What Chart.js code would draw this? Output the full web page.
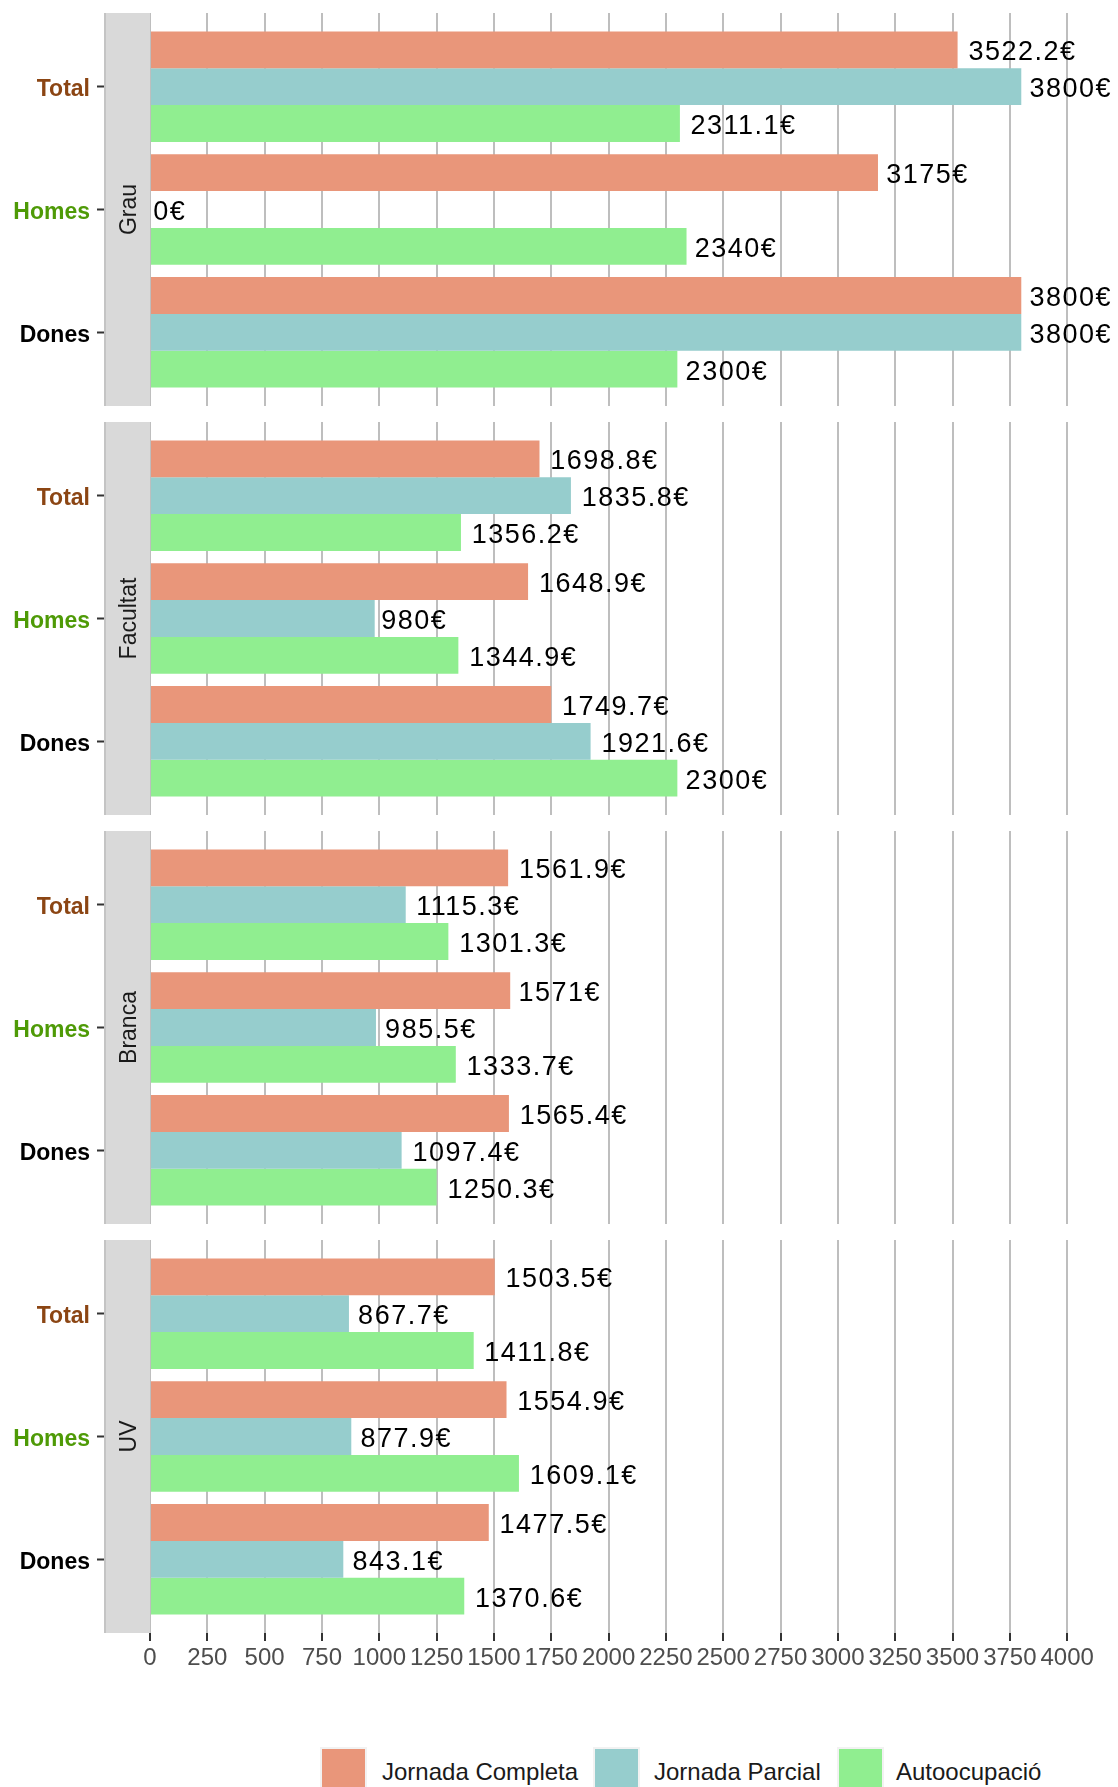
<!DOCTYPE html>
<html>
<head>
<meta charset="utf-8">
<script src="https://cdn.jsdelivr.net/npm/chart.js@4.4.1/dist/chart.umd.min.js"></script>
<style>
  html, body { margin: 0; padding: 0; background: #fff; }
  body { width: 1118px; height: 1787px; position: relative; overflow: hidden;
         font-family: "Liberation Sans", Arial, sans-serif; }
  canvas { position: absolute; left: 0; }
  .key { position: absolute; top: 1747px; width: 43px; height: 43px;
         border: 2px solid #F2F2F2; }
  .key-label { position: absolute; top: 1760px; font-size: 24px; line-height: 24px;
               color: #1A1A1A; white-space: nowrap; }
</style>
</head>
<body>
<script>
// Salaris mitjans per nivell (Grau, Facultat, Branca, UV) i sexe
const facets = ['Grau', 'Facultat', 'Branca', 'UV'];
const groups = ['Total', 'Homes', 'Dones'];
const seriesNames = ['Jornada Completa', 'Jornada Parcial', 'Autoocupació'];

// one row per facet, each row is [Total, Homes, Dones]
const jornadaCompleta = [
  [3522.2, 3175, 3800],
  [1698.8, 1648.9, 1749.7],
  [1561.9, 1571, 1565.4],
  [1503.5, 1554.9, 1477.5]
];
const jornadaParcial = [
  [3800, 0, 3800],
  [1835.8, 980, 1921.6],
  [1115.3, 985.5, 1097.4],
  [867.7, 877.9, 843.1]
];
const autoocupacio = [
  [2311.1, 2340, 2300],
  [1356.2, 1344.9, 2300],
  [1301.3, 1333.7, 1250.3],
  [1411.8, 1609.1, 1370.6]
];
const xTicks = [0, 250, 500, 750, 1000, 1250, 1500, 1750, 2000, 2250, 2500,
                2750, 3000, 3250, 3500, 3750, 4000];

const series = [jornadaCompleta, jornadaParcial, autoocupacio];
const seriesColors = ['#E9967A', '#96CDCD', '#90EE90'];
const groupColors = ['#8B4513', '#4E9A06', '#000000'];

const FONT = '"Liberation Sans", Arial, sans-serif';
const PANEL_H = 393;
const AXIS_H = 60;
const panelTops = [13, 422, 831, 1240];

// grey strip with the facet name, placed between the y labels and the panel
const facetStrip = {
  id: 'facetStrip',
  afterDraw(chart, args, opts) {
    const { ctx, chartArea } = chart;
    const x0 = 104, x1 = chartArea.left;
    const h = chartArea.bottom - chartArea.top;
    ctx.save();
    ctx.fillStyle = '#D9D9D9';
    ctx.fillRect(x0, chartArea.top, x1 - x0, h);
    ctx.fillStyle = '#C4C4C4';
    ctx.fillRect(x0, chartArea.top, 2, h);
    ctx.translate((x0 + x1) / 2 + 3, chartArea.top + h / 2);
    ctx.rotate(-Math.PI / 2);
    ctx.font = '23px ' + FONT;
    ctx.fillStyle = '#1A1A1A';
    ctx.textAlign = 'center';
    ctx.textBaseline = 'middle';
    ctx.fillText(opts.title, 0, 0);
    ctx.restore();
  }
};

// value + € written just past the end of each bar
const barValueLabels = {
  id: 'barValueLabels',
  afterDatasetsDraw(chart) {
    const ctx = chart.ctx;
    ctx.save();
    ctx.font = '27px ' + FONT;
    ctx.letterSpacing = '1.5px';
    ctx.fillStyle = '#000';
    ctx.textAlign = 'left';
    ctx.textBaseline = 'middle';
    chart.data.datasets.forEach((ds, i) => {
      chart.getDatasetMeta(i).data.forEach((bar, j) => {
        const text = ds.data[j].x + '€';
        const w = ctx.measureText(text).width;
        ctx.fillText(text, bar.x + 0.1 * w, bar.y + 3);
      });
    });
    ctx.restore();
  }
};

function makeChart(f) {
  const isLast = f === facets.length - 1;
  const canvas = document.createElement('canvas');
  canvas.width = 1118;
  canvas.height = PANEL_H + (isLast ? AXIS_H : 0);
  canvas.style.top = panelTops[f] + 'px';
  document.body.appendChild(canvas);

  return new Chart(canvas.getContext('2d'), {
    type: 'bar',
    data: {
      datasets: series.map((values, s) => ({
        label: seriesNames[s],
        data: values[f].map((v, g) => ({ x: v, y: g + 1 })),
        backgroundColor: seriesColors[s],
        borderWidth: 0,
        categoryPercentage: 0.9,
        barPercentage: 1
      }))
    },
    options: {
      indexAxis: 'y',
      responsive: false,
      animation: false,
      layout: { padding: { left: 0, right: 5, top: 0, bottom: 0 } },
      plugins: {
        legend: { display: false },
        tooltip: { enabled: false },
        facetStrip: { title: facets[f] }
      },
      scales: {
        x: {
          type: 'linear',
          min: 0,
          max: 4200,
          afterBuildTicks: s => { s.ticks = xTicks.map(v => ({ value: v })); },
          afterFit: s => {
            s.height = isLast ? AXIS_H : 0;
            s.paddingLeft = 0;
            s.paddingRight = 0;
          },
          grid: {
            color: '#BEBEBE',
            lineWidth: 2,
            drawTicks: isLast,
            tickLength: 8,
            tickColor: '#333333',
            tickWidth: 2
          },
          border: { display: false },
          ticks: {
            display: isLast,
            autoSkip: false,
            maxRotation: 0,
            padding: 3,
            color: '#4D4D4D',
            font: { family: FONT, size: 24 },
            callback: v => String(v)
          }
        },
        y: {
          type: 'linear',
          reverse: true,
          offset: false,
          bounds: 'data',
          min: 0.4,
          max: 3.6,
          afterBuildTicks: s => { s.ticks = groups.map((g, i) => ({ value: i + 1 })); },
          afterFit: s => {
            s.width = 150;
            s.paddingTop = 0;
            s.paddingBottom = 0;
          },
          grid: {
            offset: false,
            drawOnChartArea: false,
            drawTicks: true,
            tickLength: 53,
            tickColor: '#333333',
            tickWidth: 2
          },
          border: { display: false },
          ticks: {
            padding: 7,
            labelOffset: 3,
            color: c => groupColors[(c.tick ? c.tick.value : c.index + 1) - 1],
            font: { family: FONT, size: 23, weight: 'bold' },
            callback: v => groups[v - 1]
          }
        }
      }
    },
    plugins: [facetStrip, barValueLabels]
  });
}

facets.forEach((name, f) => makeChart(f));

// legend along the bottom
const keyLefts = [320, 593, 837];
const labelLefts = [382, 654, 896];
seriesNames.forEach((name, s) => {
  const key = document.createElement('div');
  key.className = 'key';
  key.style.left = keyLefts[s] + 'px';
  key.style.background = seriesColors[s];
  document.body.appendChild(key);
  const label = document.createElement('div');
  label.className = 'key-label';
  label.style.left = labelLefts[s] + 'px';
  label.textContent = name;
  document.body.appendChild(label);
});
</script>
</body>
</html>
